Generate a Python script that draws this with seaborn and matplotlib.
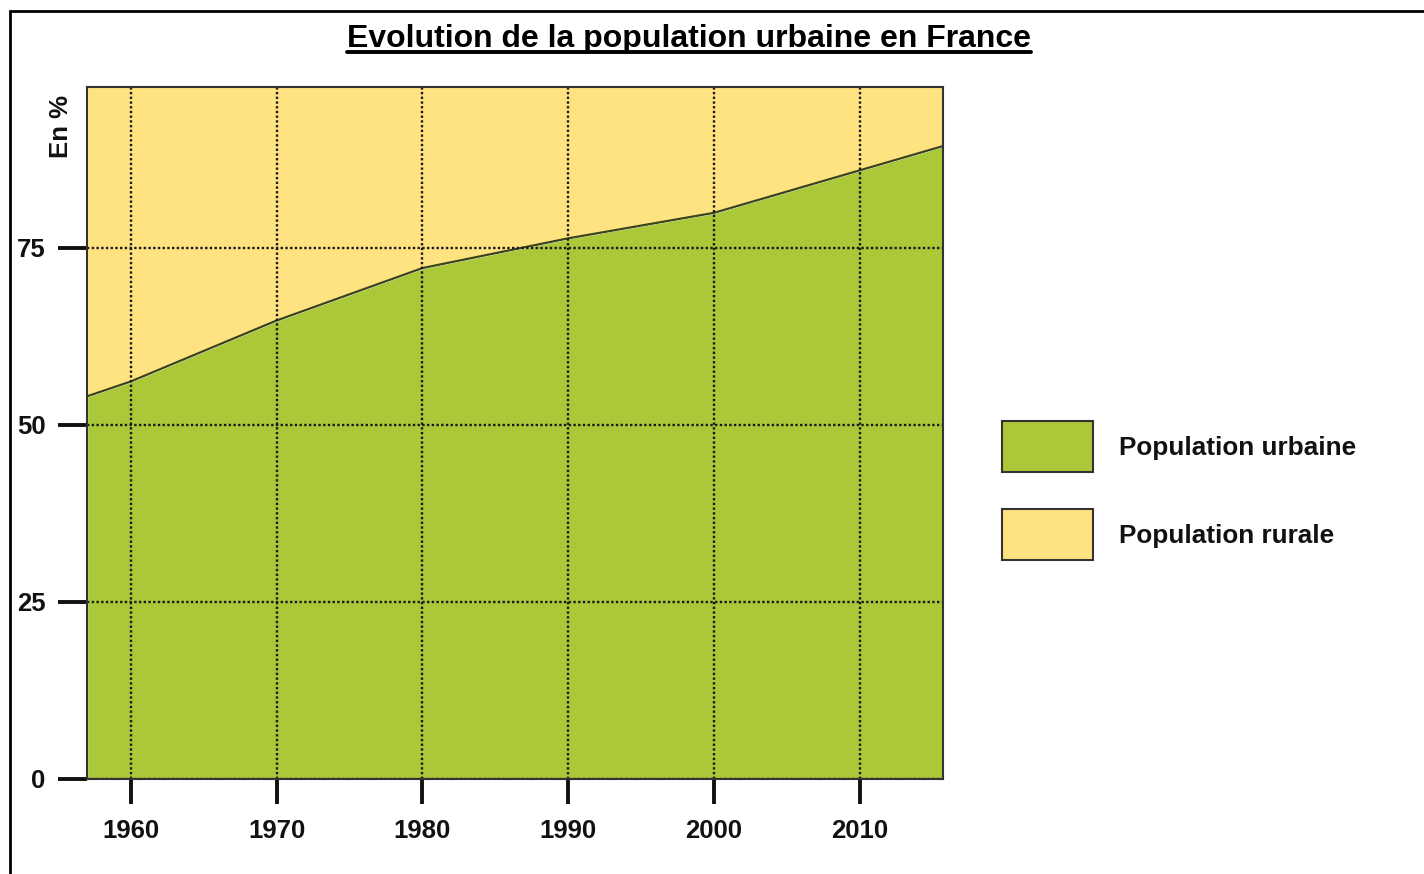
import matplotlib
matplotlib.use("Agg")
import matplotlib.pyplot as plt
import seaborn as sns
import pandas as pd
from matplotlib.patches import Patch, Rectangle
from matplotlib.lines import Line2D

# données
annees = [1957, 1960, 1970, 1980, 1990, 2000, 2010, 2016]
urbaine = [54.0, 56.1, 64.7, 72.1, 76.3, 79.9, 85.9, 89.5]
rurale = [46.0, 43.9, 35.3, 27.9, 23.7, 20.1, 14.1, 10.5]
xticks = [1960, 1970, 1980, 1990, 2000, 2010]
yticks = [0, 25, 50, 75]
labels = ["Population urbaine", "Population rurale"]

vert = "#AAC837"
jaune = "#FFE380"

sns.set_theme(style="ticks")
plt.rcParams['font.family'] = ['Liberation Sans', 'DejaVu Sans']

df = pd.DataFrame({'annee': annees, 'urbaine': urbaine, 'rurale': rurale})

fig = plt.figure(figsize=(14.24, 8.74), dpi=100)
ax = fig.add_axes([0.0611, 0.1087, 0.6011, 0.7921])

ax.stackplot(df['annee'], df['urbaine'], df['rurale'], colors=[vert, jaune], zorder=1)
sns.lineplot(data=df, x='annee', y='urbaine', ax=ax, color='#3b4418', lw=1.6, zorder=2)

ax.set_xlim(1957, 2015.7)
ax.set_ylim(0, 97.7)
ax.set_xticks(xticks)
ax.set_yticks(yticks)
ax.set_xlabel('')
ax.set_ylabel('En %', fontsize=18.5, fontweight='bold', color='#111111')
ax.yaxis.set_label_coords(-0.016, 0.942)

ax.grid(True, color='#1a1a1a', lw=1.7, linestyle=(0, (1, 1)), zorder=3)
ax.set_axisbelow(False)

for s in ax.spines.values():
    s.set_visible(True)
    s.set_color('#333333')
    s.set_linewidth(1.5)
    s.set_zorder(4)

ax.tick_params(axis='y', left=True, length=21, width=2.8, pad=9, labelsize=18.5, color='#111111')
ax.tick_params(axis='x', bottom=True, length=18, width=2.8, pad=11, labelsize=18.5, color='#111111')
for t in ax.get_xticklabels() + ax.get_yticklabels():
    t.set_fontweight('bold')
    t.set_color('#111111')

# légende
poignees = [Patch(facecolor=vert, edgecolor='#333333', lw=1.5),
            Patch(facecolor=jaune, edgecolor='#333333', lw=1.5)]
leg = fig.legend(poignees, labels, loc='upper left', bbox_to_anchor=(0.7037, 0.518),
                 frameon=False, fontsize=18.8, handlelength=3.49, handleheight=2.63,
                 labelspacing=1.42, handletextpad=1.0, borderpad=0, borderaxespad=0)
for t in leg.get_texts():
    t.set_fontweight('bold')
    t.set_color('#111111')

# titre souligné
titre = fig.text(0.4838, 1 - 47 / 874, "Evolution de la population urbaine en France",
                 ha='center', va='baseline', fontsize=23, fontweight='bold', color='black')
fig.canvas.draw()
bb = titre.get_window_extent()
y_soul = 1 - 52 / 874
fig.add_artist(Line2D([bb.x0 / 1424, bb.x1 / 1424], [y_soul, y_soul], color='black', lw=2.8,
                      transform=fig.transFigure))

# cadre
fig.add_artist(Rectangle((9.5 / 1424, -0.1), 1.2, 1.0874, transform=fig.transFigure,
                         fill=False, edgecolor='black', lw=2, clip_on=False))

fig.savefig('out.png', dpi=100)
